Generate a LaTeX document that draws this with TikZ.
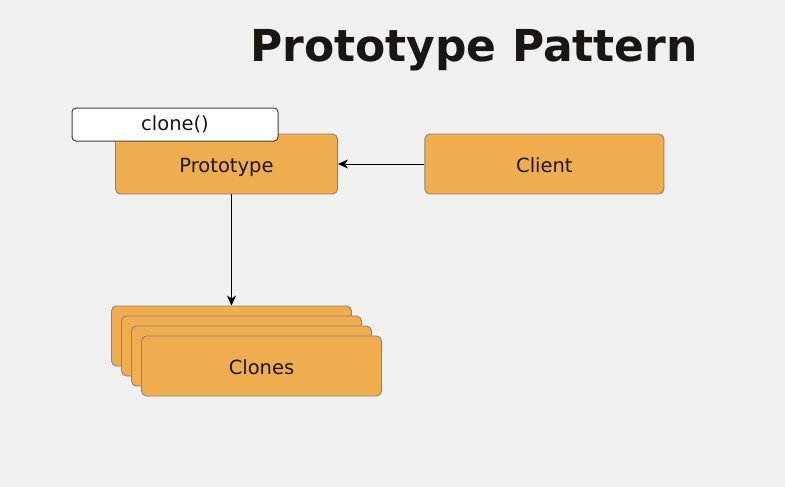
\documentclass[tikz,border=0pt]{standalone}
\usepackage{fontspec}
\setmainfont{DejaVu Sans}
\usetikzlibrary{positioning,arrows.meta}
\definecolor{bgcol}{HTML}{F0F0F0}
\definecolor{boxfill}{HTML}{F0AD50}
\definecolor{boxline}{HTML}{8C8478}
\definecolor{methodline}{HTML}{4A3E36}
\definecolor{inkcol}{HTML}{1A1612}
\tikzset{classbox/.style={draw=boxline, fill=boxfill, line width=0.9pt, rounded corners=5pt, minimum height=60pt, inner sep=0pt, text height=16pt, text depth=0pt, text=inkcol, font=\fontsize{19.5}{23}\selectfont},
  methodbox/.style={draw=methodline, fill=white, line width=1pt, rounded corners=4pt, minimum height=33pt, inner sep=0pt, text=inkcol, font=\fontsize{19.5}{23}\selectfont},
  conn/.style={-{Stealth[length=10pt,width=9pt,inset=3pt]}, line width=0.9pt, black}}

\begin{document}
\begin{tikzpicture}[x=1pt,y=-1pt]
    \fill[bgcol] (0,0) rectangle (785,487);
    \useasboundingbox (0,0) rectangle (785,487);
    \node[anchor=base, text=inkcol, font=\fontsize{44}{50}\selectfont\bfseries] (title) at (474,62) {Prototype Pattern};
    \node[classbox, minimum width=222pt] (proto) at (226.5,164) {Prototype};
    \node[classbox, minimum width=239pt, right=86.5pt of proto] (client) {Client};
    \node[methodbox, minimum width=206pt] (clone) at (175,124.5) {clone()};
    % stack of copies
    \foreach \i in {1,2,3}
      \node[classbox, minimum width=240pt] (copy\i) at ({221.5+10*\i},{326+10*\i}) {};
    \node[classbox, minimum width=240pt] (copy4) at (261.5,366) {Clones};
    \draw[conn] (client.west) -- (proto.east);
    \draw[conn] (copy1.north |- proto.south) -- (copy1.north);
\end{tikzpicture}
\end{document}
